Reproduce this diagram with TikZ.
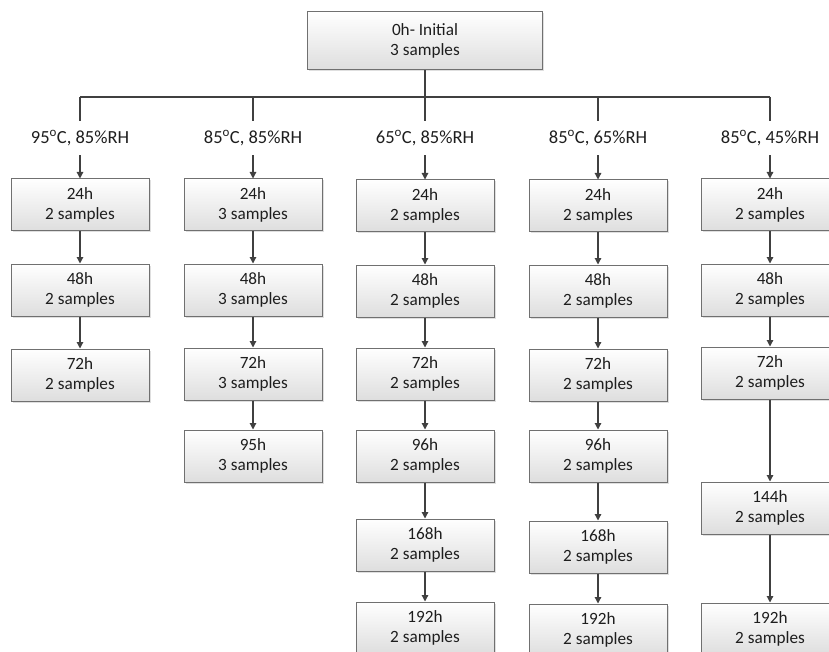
\documentclass[tikz,border=0pt]{standalone}
\usepackage{fontspec}
\setmainfont{Carlito}
\usetikzlibrary{arrows.meta,shadows}

\definecolor{linegray}{HTML}{404040}
\definecolor{boxgray}{HTML}{707070}
\definecolor{textgray}{HTML}{1E1E1E}

\begin{document}
\begin{tikzpicture}[x=1pt, y=-1pt,
	every node/.style={text=textgray, font=\fontsize{17.2}{20.5}\selectfont},
	stage/.style={rectangle, draw=boxgray, line width=1pt, top color=white, bottom color=black!13, minimum width=138pt, minimum height=52pt, inner sep=0pt, align=center, drop shadow={shadow xshift=1.5pt, shadow yshift=-1.5pt, opacity=0.25}},
	cond/.style={inner sep=0pt, minimum height=34pt, font=\fontsize{18.5}{22}\selectfont},
	every edge/.style={draw=linegray, line width=1.2pt, -{Triangle[width=6.5pt,length=6.5pt]}}]
					\useasboundingbox (0,0) rectangle (829,652);
					
					\node[stage, minimum width=235pt, minimum height=58pt] (top) at (425,41){0h- Initial\\3 samples};
					
					\coordinate (ja) at (80,97);
					\coordinate (jc) at (425,97);
					\coordinate (je) at (770,97);
					
					\node[cond] (la) at (80,138){95\textsuperscript{o}C, 85\%RH};
					\node[cond] (lb) at (253,138){85\textsuperscript{o}C, 85\%RH};
					\node[cond] (lc) at (425,138){65\textsuperscript{o}C, 85\%RH};
					\node[cond] (ld) at (598,138){85\textsuperscript{o}C, 65\%RH};
					\node[cond] (le) at (770,138){85\textsuperscript{o}C, 45\%RH};
					
					\draw[linegray, line width=1.2pt] (top) -- (jc);
					\draw[linegray, line width=1.2pt] (ja) -- (je);
					\draw[linegray, line width=1.2pt] (ja) -- (la);
					\draw[linegray, line width=1.2pt] (lb |- ja) -- (lb);
					\draw[linegray, line width=1.2pt] (jc) -- (lc);
					\draw[linegray, line width=1.2pt] (ld |- ja) -- (ld);
					\draw[linegray, line width=1.2pt] (je) -- (le);
					
					% 95C, 85%RH
					\node[stage] (a1) at (80,205){24h\\2 samples};
					\node[stage] (a2) at (80,290){48h\\2 samples};
					\node[stage] (a3) at (80,375){72h\\2 samples};
					
					\path (la) edge (a1);
					\path (a1) edge (a2);
					\path (a2) edge (a3);
					
					% 85C, 85%RH
					\node[stage] (b1) at (253,205){24h\\3 samples};
					\node[stage] (b2) at (253,290){48h\\3 samples};
					\node[stage] (b3) at (253,374){72h\\3 samples};
					\node[stage] (b4) at (253,456){95h\\3 samples};
					
					\path (lb) edge (b1);
					\path (b1) edge (b2);
					\path (b2) edge (b3);
					\path (b3) edge (b4);
					
					% 65C, 85%RH
					\node[stage] (c1) at (425,206){24h\\2 samples};
					\node[stage] (c2) at (425,291){48h\\2 samples};
					\node[stage] (c3) at (425,374){72h\\2 samples};
					\node[stage] (c4) at (425,456){96h\\2 samples};
					\node[stage] (c5) at (425,545){168h\\2 samples};
					\node[stage] (c6) at (425,628){192h\\2 samples};
					
					\path (lc) edge (c1);
					\path (c1) edge (c2);
					\path (c2) edge (c3);
					\path (c3) edge (c4);
					\path (c4) edge (c5);
					\path (c5) edge (c6);
					
					% 85C, 65%RH
					\node[stage] (d1) at (598,206){24h\\2 samples};
					\node[stage] (d2) at (598,291){48h\\2 samples};
					\node[stage] (d3) at (598,375){72h\\2 samples};
					\node[stage] (d4) at (598,456){96h\\2 samples};
					\node[stage] (d5) at (598,547){168h\\2 samples};
					\node[stage] (d6) at (598,630){192h\\2 samples};
					
					\path (ld) edge (d1);
					\path (d1) edge (d2);
					\path (d2) edge (d3);
					\path (d3) edge (d4);
					\path (d4) edge (d5);
					\path (d5) edge (d6);
					
					% 85C, 45%RH
					\node[stage] (e1) at (770,205){24h\\2 samples};
					\node[stage] (e2) at (770,290){48h\\2 samples};
					\node[stage] (e3) at (770,373){72h\\2 samples};
					\node[stage] (e4) at (770,508){144h\\2 samples};
					\node[stage] (e5) at (770,629){192h\\2 samples};
					
					\path (le) edge (e1);
					\path (e1) edge (e2);
					\path (e2) edge (e3);
					\path (e3) edge (e4);
					\path (e4) edge (e5);
\end{tikzpicture}
\end{document}
